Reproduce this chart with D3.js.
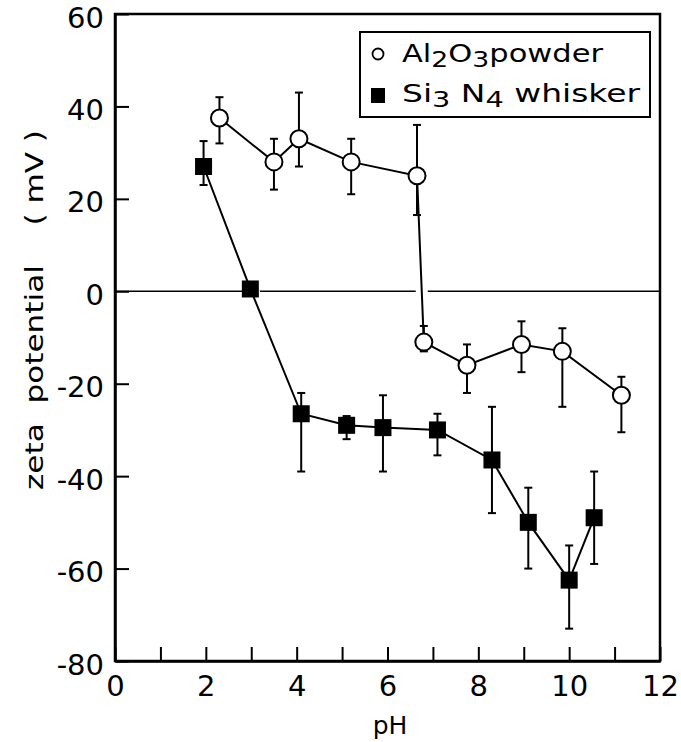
<!DOCTYPE html>
<html>
<head>
<meta charset="utf-8">
<script src="https://cdn.jsdelivr.net/npm/d3@7"></script>
<style>
  body { margin: 0; background: #fff; }
  svg text { font-family: "DejaVu Sans", sans-serif; fill: #000; }
</style>
</head>
<body>
<svg id="chart" width="681" height="742"></svg>
<script>
// Al2O3 powder (open circles)
var alPh   = [2.3, 3.5, 4.05, 5.2, 6.65, 6.8, 7.75, 8.95, 9.85, 11.15];
var alZeta = [37.5, 28, 33, 28, 25, -11, -16, -11.5, -13, -22.5];
var alHi   = [42, 33, 43, 33, 36, -7.5, -11.5, -6.5, -8, -18.5];
var alLo   = [32, 22, 27, 21, 16.5, -13, -22, -17.5, -25, -30.5];

// Si3N4 whisker (filled squares)
var siPh   = [1.95, 2.98, 4.1, 5.1, 5.9, 7.1, 8.3, 9.1, 10.0, 10.55];
var siZeta = [27, 0.5, -26.5, -29, -29.5, -30, -36.5, -50, -62.5, -49];
var siHi   = [32.5, 0.5, -22, -27, -22.5, -26.5, -25, -42.5, -55, -39];
var siLo   = [23, 0.5, -39, -32, -39, -35.5, -48, -60, -73, -59];

var yTicks = [-80, -60, -40, -20, 0, 20, 40, 60];
var xTicks = [0, 1, 2, 3, 4, 5, 6, 7, 8, 9, 10, 11, 12];

var svg = d3.select("#chart");
var plotL = 115, plotR = 660, plotT = 14, plotB = 661;

var x = d3.scaleLinear().domain([0, 12]).range([plotL, plotR]);
var y = d3.scaleLinear().domain([-80, 60]).range([plotB, plotT]);

// frame
svg.append("rect")
  .attr("x", plotL).attr("y", plotT)
  .attr("width", plotR - plotL).attr("height", plotB - plotT)
  .attr("fill", "none").attr("stroke", "#000").attr("stroke-width", 2.5);

// axes, ticks pointing inward
var xAxis = d3.axisBottom(x).tickValues(xTicks).tickSize(-14).tickSizeOuter(0).tickPadding(13)
  .tickFormat(function (d) { return d % 2 === 0 ? String(d) : ""; });
var gx = svg.append("g").attr("transform", "translate(0," + plotB + ")").call(xAxis);

var yAxis = d3.axisLeft(y).tickValues(yTicks).tickSize(-14).tickSizeOuter(0).tickPadding(12)
  .tickFormat(function (d) { return String(d); });
var gy = svg.append("g").attr("transform", "translate(" + plotL + ",0)").call(yAxis);

[gx, gy].forEach(function (g) {
  g.select(".domain").attr("stroke-width", 2.5);
  g.selectAll(".tick line").attr("stroke-width", 2);
  g.selectAll(".tick text").style("font-size", "29px").style("font-family", "DejaVu Sans");
});
gx.selectAll(".tick text").attr("dy", "0.75em");
gy.selectAll(".tick text").attr("dx", "1").attr("dy", "0.45em");

// axis titles
svg.append("text")
  .attr("x", 390).attr("y", 734)
  .attr("text-anchor", "middle")
  .style("font-size", "25px")
  .text("pH");

svg.append("text")
  .attr("transform", "translate(43,310) rotate(-90)")
  .attr("text-anchor", "middle")
  .style("font-size", "25px")
  .attr("xml:space", "preserve")
  .attr("textLength", 360).attr("lengthAdjust", "spacingAndGlyphs")
  .text("zeta  potential    ( mV )");

// zero line
svg.append("line")
  .attr("x1", plotL).attr("x2", plotR)
  .attr("y1", y(0)).attr("y2", y(0))
  .attr("stroke", "#000").attr("stroke-width", 1.5);

function drawSeries(ph, zeta, hi, lo, kind) {
  var pts = ph.map(function (p, i) { return { p: p, z: zeta[i], hi: hi[i], lo: lo[i] }; });
  var g = svg.append("g");
  var line = d3.line().x(function (d) { return x(d.p); }).y(function (d) { return y(d.z); });

  // white halo so the zero line looks broken where a series crosses it
  g.append("path").datum(pts)
    .attr("fill", "none").attr("stroke", "#fff").attr("stroke-width", kind === "circle" ? 12 : 16)
    .attr("d", line);
  g.append("path").datum(pts)
    .attr("fill", "none").attr("stroke", "#000").attr("stroke-width", 2)
    .attr("d", line);

  var eb = g.selectAll(".eb").data(pts.filter(function (d) { return d.hi !== d.lo; }))
    .enter().append("g").attr("stroke", "#000").attr("stroke-width", 2);
  eb.append("line")
    .attr("x1", function (d) { return x(d.p); }).attr("x2", function (d) { return x(d.p); })
    .attr("y1", function (d) { return y(d.hi); }).attr("y2", function (d) { return y(d.lo); });
  eb.append("line")
    .attr("x1", function (d) { return x(d.p) - 4; }).attr("x2", function (d) { return x(d.p) + 4; })
    .attr("y1", function (d) { return y(d.hi); }).attr("y2", function (d) { return y(d.hi); });
  eb.append("line")
    .attr("x1", function (d) { return x(d.p) - 4; }).attr("x2", function (d) { return x(d.p) + 4; })
    .attr("y1", function (d) { return y(d.lo); }).attr("y2", function (d) { return y(d.lo); });

  if (kind === "circle") {
    g.selectAll("circle").data(pts).enter().append("circle")
      .attr("cx", function (d) { return x(d.p); })
      .attr("cy", function (d) { return y(d.z); })
      .attr("r", 8.5)
      .attr("fill", "#fff").attr("stroke", "#000").attr("stroke-width", 2);
  } else {
    g.selectAll("rect").data(pts).enter().append("rect")
      .attr("x", function (d) { return x(d.p) - 8.5; })
      .attr("y", function (d) { return y(d.z) - 8.5; })
      .attr("width", 17).attr("height", 17)
      .attr("fill", "#000");
  }
}

drawSeries(alPh, alZeta, alHi, alLo, "circle");
drawSeries(siPh, siZeta, siHi, siLo, "square");

// legend
var lg = svg.append("g");
lg.append("rect")
  .attr("x", 360).attr("y", 32).attr("width", 290).attr("height", 85)
  .attr("fill", "#fff").attr("stroke", "#000").attr("stroke-width", 2);
lg.append("circle").attr("cx", 378).attr("cy", 54).attr("r", 5.5)
  .attr("fill", "#fff").attr("stroke", "#000").attr("stroke-width", 1.8);
lg.append("rect").attr("x", 371).attr("y", 88).attr("width", 14).attr("height", 15).attr("fill", "#000");

var t1 = lg.append("text").attr("x", 402).attr("y", 62).style("font-size", "24px")
  .attr("textLength", 201).attr("lengthAdjust", "spacingAndGlyphs");
t1.append("tspan").text("Al");
t1.append("tspan").attr("dy", 5).style("font-size", "21px").text("2");
t1.append("tspan").attr("dy", -5).text("O");
t1.append("tspan").attr("dy", 5).style("font-size", "21px").text("3");
t1.append("tspan").attr("dy", -5).text("powder");

var t2 = lg.append("text").attr("x", 402).attr("y", 102).style("font-size", "24px")
  .attr("textLength", 238).attr("lengthAdjust", "spacingAndGlyphs");
t2.append("tspan").text("Si");
t2.append("tspan").attr("dy", 5).style("font-size", "21px").text("3");
t2.append("tspan").attr("dy", -5).text(" N");
t2.append("tspan").attr("dy", 5).style("font-size", "21px").text("4");
t2.append("tspan").attr("dy", -5).text(" whisker");
</script>
</body>
</html>
